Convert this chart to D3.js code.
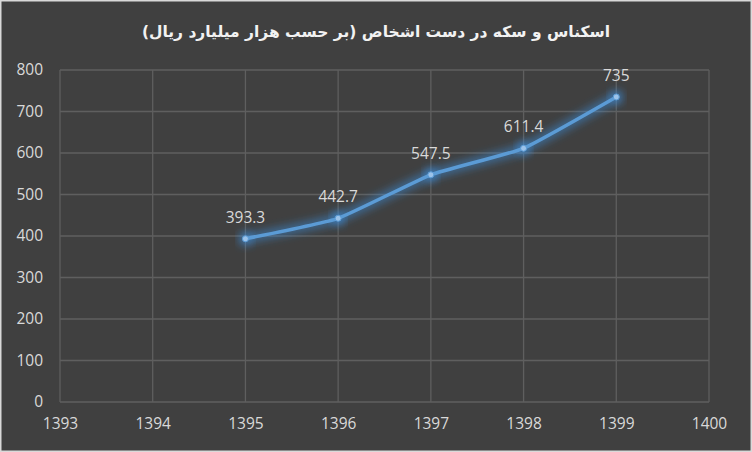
<!DOCTYPE html>
<html><head><meta charset="utf-8">
<script src="https://cdn.jsdelivr.net/npm/d3@7"></script>
<style>
html,body{margin:0;padding:0;background:#404040;}
svg{display:block;}
</style></head>
<body>
<svg id="c" width="752" height="452"></svg>
<script>
const title = "اسکناس و سکه در دست اشخاص (بر حسب هزار میلیارد ریال)";
const years = [1395, 1396, 1397, 1398, 1399];
const values = [393.3, 442.7, 547.5, 611.4, 735];
const labels = ["393.3", "442.7", "547.5", "611.4", "735"];
const xTicks = [1393, 1394, 1395, 1396, 1397, 1398, 1399, 1400];
const yTicks = [0, 100, 200, 300, 400, 500, 600, 700, 800];

const W = 752, H = 452;
const m = {l: 60, r: 43, t: 70, b: 50};
const svg = d3.select("#c");

svg.append("rect").attr("x",0.5).attr("y",0.5).attr("width",W-1).attr("height",H-1)
  .attr("fill","#404040").attr("stroke","#d9d9d9").attr("stroke-width",2);

const x = d3.scaleLinear().domain([1393,1400]).range([m.l, W-m.r]);
const y = d3.scaleLinear().domain([0,800]).range([H-m.b, m.t]);

const defs = svg.append("defs");
const f = defs.append("filter").attr("id","glow").attr("x","-20%").attr("y","-50%").attr("width","140%").attr("height","200%");
f.append("feGaussianBlur").attr("stdDeviation",4);

// grid
const g = svg.append("g");
g.selectAll(".hg").data(yTicks).join("line")
  .attr("x1", m.l).attr("x2", W-m.r).attr("y1", d=>y(d)).attr("y2", d=>y(d))
  .attr("stroke", "#5f5f5f").attr("stroke-width", 1.3);
g.selectAll(".vg").data(xTicks).join("line")
  .attr("x1", d=>x(d)).attr("x2", d=>x(d)).attr("y1", m.t).attr("y2", H-m.b)
  .attr("stroke", "#5f5f5f").attr("stroke-width", 1.3);

// axes labels
const yAxis = d3.axisLeft(y).tickValues(yTicks).tickSize(0).tickPadding(17);
const ya = svg.append("g").attr("transform",`translate(${m.l},0)`).call(yAxis);
ya.select(".domain").remove();
ya.selectAll("text").attr("fill","#d9d9d9").attr("font-size",15.5).attr("font-family","'Open Sans', sans-serif");

const xAxis = d3.axisBottom(x).tickValues(xTicks).tickFormat(d3.format("d")).tickSize(0).tickPadding(16);
const xa = svg.append("g").attr("transform",`translate(0,${H-m.b})`).call(xAxis);
xa.select(".domain").remove();
xa.selectAll("text").attr("fill","#d9d9d9").attr("font-size",15.5).attr("font-family","'Open Sans', sans-serif");

// line
const data = years.map((yr,i)=>({yr, v: values[i], l: labels[i]}));
const line = d3.line().x(d=>x(d.yr)).y(d=>y(d.v)).curve(d3.curveCardinal.tension(0.6));
svg.append("path").datum(data).attr("d", line).attr("fill","none")
  .attr("stroke","#3d8fe0").attr("stroke-width",9).attr("stroke-opacity",0.55).attr("filter","url(#glow)");
svg.selectAll(".gm").data(data).join("circle").attr("cx",d=>x(d.yr)).attr("cy",d=>y(d.v)).attr("r",7)
  .attr("fill","#3d8fe0").attr("fill-opacity",0.6).attr("filter","url(#glow)");
svg.append("path").datum(data).attr("d", line).attr("fill","none")
  .attr("stroke","#5b9bd5").attr("stroke-width",3.5).attr("stroke-linecap","round");
svg.selectAll(".mk").data(data).join("circle").attr("cx",d=>x(d.yr)).attr("cy",d=>y(d.v)).attr("r",3)
  .attr("fill","#9cc3ea").attr("stroke","#5b9bd5").attr("stroke-width",1);

svg.selectAll(".dl").data(data).join("text")
  .attr("x",d=>x(d.yr)).attr("y",d=>y(d.v)-16).attr("text-anchor","middle")
  .attr("fill","#d9d9d9").attr("font-size",15.5).attr("font-family","'Open Sans', sans-serif")
  .text(d=>d.l);

svg.append("text").attr("x", W/2).attr("y", 37).attr("text-anchor","middle")
  .attr("direction","rtl")
  .attr("fill","#f2f2f2").attr("font-size",15.5).attr("font-weight","bold")
  .attr("font-family","'DejaVu Sans', sans-serif").text(title);
</script>
</body></html>
